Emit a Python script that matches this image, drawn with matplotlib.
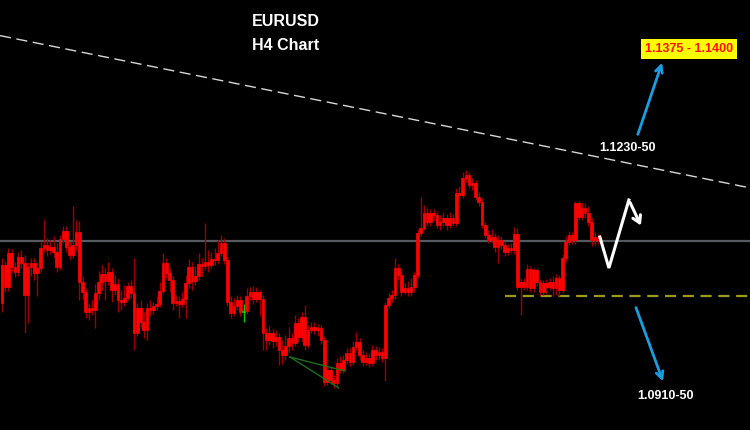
import matplotlib
matplotlib.use("Agg")
import matplotlib.pyplot as plt

# EURUSD H4 candles
first_open = 1.0988
closes = [
    1.1026, 1.1004, 1.1038, 1.1024, 1.1019, 1.1034, 1.1028, 1.0996, 1.1024, 1.1028,
    1.1018, 1.1023, 1.1043, 1.1046, 1.1041, 1.1044, 1.1039, 1.1024, 1.1052, 1.1060,
    1.1044, 1.1036, 1.1046, 1.1059, 1.1009, 1.0999, 1.0979, 1.0983, 1.0981, 1.0998,
    1.1009, 1.1017, 1.1010, 1.1019, 1.1001, 1.1007, 1.0991, 1.0989, 1.0993, 1.1005,
    1.0998, 1.0958, 1.0983, 1.0969, 1.0961, 1.0983, 1.0981, 1.0985, 1.0987, 1.1000,
    1.1028, 1.1018, 1.1011, 1.0988, 1.0990, 1.0987, 1.0992, 1.1008, 1.1024, 1.1010,
    1.1015, 1.1027, 1.1025, 1.1029, 1.1026, 1.1032, 1.1031, 1.1038, 1.1048, 1.1031,
    1.0989, 1.0978, 1.0985, 1.0991, 1.0979, 1.0980, 1.0995, 1.0999, 1.0992, 1.0999,
    1.0992, 1.0958, 1.0951, 1.0958, 1.0950, 1.0954, 1.0941, 1.0936, 1.0945, 1.0953,
    1.0948, 1.0968, 1.0954, 1.0974, 1.0946, 1.0961, 1.0964, 1.0961, 1.0963, 1.0951,
    1.0909, 1.0921, 1.0911, 1.0908, 1.0928, 1.0921, 1.0931, 1.0938, 1.0929, 1.0944,
    1.0949, 1.0936, 1.0929, 1.0933, 1.0928, 1.0941, 1.0936, 1.0939, 1.0933, 1.0986,
    1.0993, 1.0996, 1.1023, 1.1016, 1.0999, 1.1003, 1.0999, 1.1004, 1.1016, 1.1058,
    1.1063, 1.1078, 1.1069, 1.1078, 1.1076, 1.1066, 1.1069, 1.1073, 1.1066, 1.1073,
    1.1068, 1.1098, 1.1096, 1.1113, 1.1116, 1.1106, 1.1108, 1.1094, 1.1089, 1.1066,
    1.1056, 1.1051, 1.1054, 1.1044, 1.1051, 1.1046, 1.1039, 1.1043, 1.1041, 1.1057,
    1.1004, 1.1009, 1.1004, 1.1022, 1.1003, 1.1021, 1.1009, 1.0999, 1.1008, 1.1004,
    1.1009, 1.1003, 1.1013, 1.1001, 1.1033, 1.1049, 1.1056, 1.1051, 1.1088, 1.1074,
    1.1083, 1.1078, 1.1069, 1.1051, 1.1054, 1.1051,
]
highs = [
    1.1033, 1.1030, 1.1043, 1.1042, 1.1029, 1.1039, 1.1041, 1.1036, 1.1029, 1.1033,
    1.1033, 1.1029, 1.1049, 1.1072, 1.1053, 1.1051, 1.1055, 1.1048, 1.1056, 1.1065,
    1.1065, 1.1049, 1.1085, 1.1071, 1.1070, 1.1015, 1.1003, 1.0988, 1.0991, 1.1007,
    1.1020, 1.1026, 1.1023, 1.1029, 1.1023, 1.1016, 1.1013, 1.1001, 1.1006, 1.1009,
    1.1011, 1.1033, 1.0988, 1.0991, 1.0979, 1.0988, 1.0991, 1.0989, 1.0995, 1.1009,
    1.1038, 1.1033, 1.1023, 1.1015, 1.0996, 1.0995, 1.0999, 1.1016, 1.1032, 1.1029,
    1.1025, 1.1038, 1.1033, 1.1068, 1.1041, 1.1039, 1.1043, 1.1051, 1.1056, 1.1053,
    1.1035, 1.0995, 1.0993, 1.0996, 1.0995, 1.0987, 1.1003, 1.1004, 1.1005, 1.1004,
    1.1001, 1.0996, 1.0963, 1.0965, 1.0962, 1.0961, 1.0958, 1.0951, 1.0956, 1.0964,
    1.0958, 1.0976, 1.0973, 1.0979, 1.0986, 1.0966, 1.0969, 1.0969, 1.0967, 1.0966,
    1.0955, 1.0926, 1.0924, 1.0916, 1.0933, 1.0935, 1.0936, 1.0943, 1.0943, 1.0950,
    1.0959, 1.0953, 1.0941, 1.0939, 1.0938, 1.0946, 1.0945, 1.0944, 1.0943, 1.0989,
    1.0998, 1.1001, 1.1033, 1.1027, 1.1021, 1.1008, 1.1010, 1.1013, 1.1019, 1.1062,
    1.1094, 1.1086, 1.1083, 1.1082, 1.1082, 1.1080, 1.1076, 1.1079, 1.1077, 1.1079,
    1.1077, 1.1103, 1.1105, 1.1119, 1.1121, 1.1119, 1.1113, 1.1111, 1.1099, 1.1093,
    1.1069, 1.1061, 1.1062, 1.1058, 1.1056, 1.1055, 1.1050, 1.1047, 1.1048, 1.1064,
    1.1063, 1.1013, 1.1013, 1.1027, 1.1025, 1.1023, 1.1023, 1.1012, 1.1011, 1.1012,
    1.1013, 1.1015, 1.1017, 1.1016, 1.1037, 1.1055, 1.1060, 1.1059, 1.1090, 1.1090,
    1.1089, 1.1088, 1.1085, 1.1073, 1.1059, 1.1057,
]
lows = [
    1.0979, 1.0999, 1.1000, 1.1019, 1.1014, 1.1015, 1.1023, 1.0958, 1.0968, 1.1015,
    1.1011, 1.0995, 1.1019, 1.1039, 1.1035, 1.1037, 1.1033, 1.1019, 1.1021, 1.1048,
    1.1039, 1.1031, 1.1033, 1.1041, 1.0991, 1.0991, 1.0973, 1.0971, 1.0976, 1.0963,
    1.0991, 1.1001, 1.0991, 1.1006, 1.0989, 1.0996, 1.0979, 1.0981, 1.0985, 1.0991,
    1.0993, 1.0941, 1.0955, 1.0963, 1.0953, 1.0951, 1.0975, 1.0977, 1.0981, 1.0984,
    1.0997, 1.1013, 1.0999, 1.0981, 1.0985, 1.0973, 1.0984, 1.0973, 1.1003, 1.1001,
    1.1006, 1.1011, 1.1015, 1.1021, 1.1019, 1.1023, 1.1026, 1.1027, 1.1035, 1.1027,
    1.0985, 1.0973, 1.0975, 1.0981, 1.0975, 1.0969, 1.0977, 1.0991, 1.0987, 1.0989,
    1.0975, 1.0941, 1.0941, 1.0946, 1.0943, 1.0945, 1.0926, 1.0927, 1.0931, 1.0939,
    1.0941, 1.0945, 1.0949, 1.0949, 1.0941, 1.0943, 1.0958, 1.0957, 1.0955, 1.0947,
    1.0905, 1.0906, 1.0907, 1.0903, 1.0905, 1.0918, 1.0918, 1.0927, 1.0925, 1.0926,
    1.0941, 1.0931, 1.0925, 1.0926, 1.0924, 1.0925, 1.0931, 1.0931, 1.0929, 1.0910,
    1.0983, 1.0989, 1.0992, 1.1011, 1.0995, 1.0997, 1.0995, 1.0995, 1.0999, 1.1013,
    1.1055, 1.1061, 1.1065, 1.1065, 1.1071, 1.1063, 1.1061, 1.1065, 1.1061, 1.1063,
    1.1065, 1.1065, 1.1091, 1.1093, 1.1109, 1.1103, 1.1101, 1.1091, 1.1085, 1.1063,
    1.1053, 1.1048, 1.1048, 1.1039, 1.1028, 1.1042, 1.1035, 1.1036, 1.1038, 1.1037,
    1.1001, 1.0976, 1.1001, 1.1001, 1.0999, 1.0999, 1.1005, 1.0995, 1.0996, 1.0997,
    1.1001, 1.0995, 1.0996, 1.0995, 1.0998, 1.1029, 1.1046, 1.1047, 1.1047, 1.1071,
    1.1071, 1.1073, 1.1065, 1.1045, 1.1046, 1.1047,
]
green_candles = [75]

# levels / drawings
pivot_level = 1.1050
support_level = 1.0995
support_start = 156.1
trend_pts = [(0, 1.1255), (185, 1.1134)]
fan_origin = (89.4, 1.0934)
fan_ends = [(104.6, 1.0903), (106.5, 1.0920)]
zigzag_x = [185.6, 188.4, 194.6]
zigzag_y = [1.1054, 1.1023, 1.1091]
zigzag_end = (198.7, 1.1063)
up_arrow = [(197.1, 1.1154), (205.2, 1.1231)]
down_arrow = [(196.5, 1.0986), (205.5, 1.0907)]

opens = [first_open] + closes[:-1]
idx = list(range(len(closes)))

plt.rcParams['font.family'] = ['Liberation Sans', 'DejaVu Sans']
fig = plt.figure(figsize=(7.5, 4.3), dpi=100, facecolor='black')
ax = fig.add_axes([0, 0, 1, 1])
ax.set_facecolor('black')
ax.set_xlim(-0.62, 232.2)
ax.set_ylim(1.0861, 1.1291)
ax.axis('off')

ax.axhline(pivot_level, color='#555a61', lw=1.6, zorder=1)
ax.axline(trend_pts[0], trend_pts[1], color='#d8d8d8', lw=1.0, dashes=(8, 4), zorder=1)
ax.plot([support_start, 240], [support_level] * 2, color='#9c9a1c', lw=1.6,
        dashes=(5, 3), zorder=1)

wick_col = ['#00d000' if i in green_candles else '#9a0000' for i in idx]
body_col = ['#00d000' if i in green_candles else '#ff0000' for i in idx]
ax.vlines(idx, lows, highs, colors=wick_col, lw=1.0, zorder=2)
ax.bar(idx, [c - o for o, c in zip(opens, closes)], bottom=opens, width=0.85,
       color=body_col, edgecolor=body_col, linewidth=0.5, zorder=3)

for end in fan_ends:
    ax.plot([fan_origin[0], end[0]], [fan_origin[1], end[1]], color='#1d6e1d', lw=1.0, zorder=4)

ax.plot(zigzag_x, zigzag_y, color='white', lw=2.2, solid_joinstyle='miter', zorder=5)
ax.annotate('', xy=zigzag_end, xytext=(zigzag_x[-1], zigzag_y[-1]),
            arrowprops=dict(arrowstyle='->,head_length=0.5,head_width=0.3', color='white', lw=2.2))
for a in (up_arrow, down_arrow):
    ax.annotate('', xy=a[1], xytext=a[0],
                arrowprops=dict(arrowstyle='->,head_length=0.5,head_width=0.25', color='#1b9ee0', lw=2))

fig.text(286 / 750, 1 - 22 / 430, 'EURUSD', color='white', fontsize=11.5, fontweight='bold',
         ha='center', va='center')
fig.text(286 / 750, 1 - 45 / 430, 'H4 Chart', color='white', fontsize=11.5, fontweight='bold',
         ha='center', va='center')
fig.text(627 / 750, 1 - 148 / 430, '1.1230-50', color='white', fontsize=9, fontweight='bold',
         ha='center', va='center')
fig.text(666 / 750, 1 - 396 / 430, '1.0910-50', color='white', fontsize=9, fontweight='bold',
         ha='center', va='center')
fig.text(689 / 750, 1 - 49 / 430, '1.1375 - 1.1400', color='#ff1010', fontsize=9,
         fontweight='bold', ha='center', va='center',
         bbox=dict(boxstyle='square,pad=0.3', facecolor='#ffff00', edgecolor='none'))

fig.savefig('out.png', dpi=100, facecolor='black')
